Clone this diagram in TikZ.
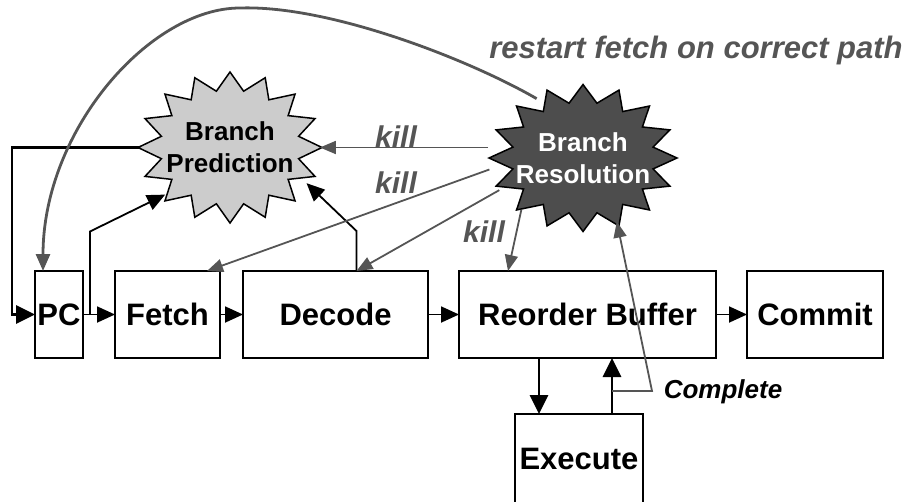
\documentclass[tikz,border=0pt]{standalone}
\usepackage{fontspec}
\setmainfont{Liberation Sans}
\usetikzlibrary{positioning,arrows.meta,shapes.geometric,backgrounds}
\definecolor{killgray}{HTML}{555555}
\definecolor{resfill}{HTML}{4D4D4D}
\definecolor{predfill}{HTML}{CCCCCC}

\tikzset{
  stage/.style={draw,line width=1.8pt,outer sep=0pt,inner sep=0pt,minimum height=87pt,font=\fontsize{31}{34}\selectfont\bfseries},
  burst/.style={ellipse,inner sep=0pt,outer sep=0pt,minimum width=166pt,minimum height=136pt,align=center,font=\fontsize{26}{32}\selectfont\bfseries},
  flow/.style={-{Triangle[length=18pt,width=16pt]},line width=1.8pt},
  heavy/.style={-{Triangle[length=19pt,width=18pt]},line width=2.8pt},
  killline/.style={-{Triangle[length=16pt,width=13pt]},line width=1.8pt,draw=killgray,color=killgray},
  restartline/.style={-{Triangle[length=17pt,width=14pt]},line width=2.8pt,color=killgray},
  killtext/.style={text=killgray,font=\fontsize{30}{34}\selectfont\bfseries\itshape},
}

\begin{document}
\begin{tikzpicture}[x=1pt,y=-1pt]
  \useasboundingbox (0,0) rectangle (917,501);
  % pipeline stages
  \node[stage,minimum width=48pt] (pc) at (59,314.5) {PC};
  \node[stage,minimum width=105pt,right=32pt of pc] (fetch) {Fetch};
  \node[stage,minimum width=185pt,right=23pt of fetch] (decode) {Decode};
  \node[stage,minimum width=257pt,right=31pt of decode] (rob) {Reorder Buffer};
  \node[stage,minimum width=136pt,right=31pt of rob] (commit) {Commit};
  \node[stage,minimum width=128pt,minimum height=90pt,below=56pt of rob,xshift=-8.5pt] (execute) {Execute};

  % branch units
  \node[burst] (bp) at (230,147.5) {Branch\\Prediction};
  \node[burst,text=white] (br) at (583,158) {Branch\\Resolution};
  \begin{scope}[on background layer]
    \draw[line width=1.5pt,fill=predfill,shift={(bp.center)}] plot[samples=32,domain=0:31,variable=\k]
      ({92*(mod(\k,2)==0?1:0.76)*cos(90+11.25*\k)},{75.5*(mod(\k,2)==0?1:0.76)*sin(90+11.25*\k)}) -- cycle;
    \draw[line width=1.5pt,fill=resfill,shift={(br.center)}] plot[samples=32,domain=0:31,variable=\k]
      ({94*(mod(\k,2)==0?1:0.76)*cos(90+11.25*\k)},{73.5*(mod(\k,2)==0?1:0.76)*sin(90+11.25*\k)}) -- cycle;
  \end{scope}

  % main flow
  \draw[flow] (pc) -- (fetch);
  \draw[flow] (fetch) -- (decode);
  \draw[flow] (decode) -- (rob);
  \draw[flow] (rob) -- (commit);
  \draw[heavy] ([xshift=-40pt]execute.north |- rob.south) -- ([xshift=-40pt]execute.north);
  \draw[heavy] ([xshift=33pt]execute.north) -- ([xshift=33pt]execute.north |- rob.south);

  % prediction
  \draw[flow] ([xshift=7pt]pc.east) -- ++(0,-83) -- (bp.216);
  \draw[flow] ([xshift=21pt]decode.north) -- ++(0,-40) -- (bp.335);
  \draw[heavy] (bp.west) -- ([xshift=-23pt]pc.west |- bp.west) |- (pc.west);

  % resolution
  \draw[killline] (br.west |- bp.east) -- (bp.east);
  \draw[killline] (br.187) -- ([xshift=-13pt]fetch.north east);
  \draw[killline] (br.201) -- ([xshift=21pt]decode.north);
  \draw[killline] (br.220) -- ([xshift=49pt]rob.north west);
  \draw[killline] ([xshift=33pt,yshift=23pt]execute.north) -- ++(40,0) -- (br.298);
  \coordinate (apex) at (240,8);
  \draw[restartline] (br.128) .. controls (470,60) and (330,5) .. (apex)
    .. controls (150,8) and (43,130) .. ([xshift=-16pt]pc.north);

  \node[killtext] (kill1) at (396,137) {kill};
  \node[killtext] (kill2) at (396,183) {kill};
  \node[killtext] (kill3) at (484,232) {kill};
  \node[font=\fontsize{26}{30}\selectfont\bfseries\itshape] (complete) at (723,392) {Complete};
  \node[killtext,font=\fontsize{31}{34}\selectfont\bfseries\itshape] (restart) at (696,50) {restart fetch on correct path};
\end{tikzpicture}
\end{document}
